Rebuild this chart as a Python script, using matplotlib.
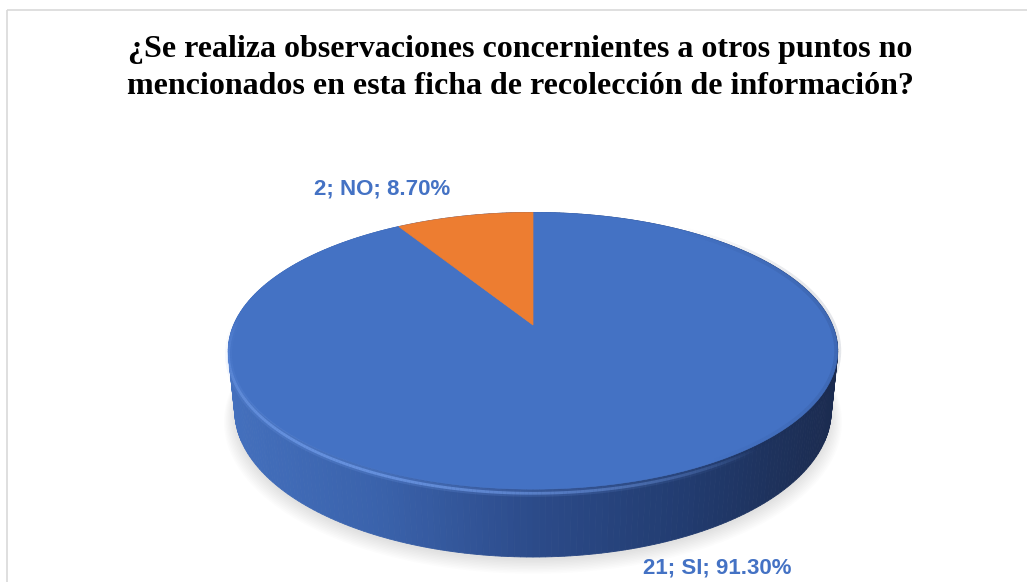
import numpy as np
import matplotlib.pyplot as plt
from matplotlib.patches import Polygon, Rectangle
from matplotlib.collections import LineCollection
from matplotlib.colors import LinearSegmentedColormap, to_rgba

# data
categories = ['SI', 'NO']
counts = [21, 2]
slice_colors = ['#4472C4', '#ED7D31']
title_lines = ['¿Se realiza observaciones concernientes a otros puntos no',
               'mencionados en esta ficha de recolección de información?']

# fake 3D pie camera (pixel space)
cx, cy = 533, 325
elev = np.radians(26.5)
dist = 4.8
focal = 1437
thick = 0.224


def proj(X, Y, Z):
    # Y = depth (far is positive), Z = up
    d = dist + Y * np.cos(elev) - Z * np.sin(elev)
    u = focal * X / d
    v = focal * (Y * np.sin(elev) + Z * np.cos(elev)) / d
    return cx + u, cy - v


def arc(a0, a1, z, n=200):
    phi = np.linspace(a0, a1, n)
    return proj(np.sin(phi), np.cos(phi), z * np.ones_like(phi))


def fading_line(a0, a1, z, color, width, alpha_max, dy=0):
    # rim line whose alpha follows a sine bump along the arc
    xs, ys = arc(a0, a1, z, 200)
    ys = ys + dy
    pts = np.column_stack([xs, ys]).reshape(-1, 1, 2)
    segs = np.concatenate([pts[:-1], pts[1:]], axis=1)
    t = np.linspace(0, 1, len(segs))
    alphas = alpha_max * np.sin(np.pi * t) ** 0.8
    cols = [to_rgba(color, a) for a in alphas]
    ax.add_collection(LineCollection(segs, colors=cols, linewidths=width, zorder=4))


fig = plt.figure(figsize=(10.27, 5.82), dpi=100)
ax = fig.add_axes([0, 0, 1, 1])
ax.set_xlim(0, 1027)
ax.set_ylim(582, 0)
ax.axis('off')

# chart border
ax.add_patch(Rectangle((6.5, 9.5), 1030, 600, fill=False, ec='#d9d9d9', lw=1.2))

# soft shadow under the pie
for k in range(10):
    sc = 1.0 + 0.004 * k
    bx, by = arc(0, 2 * np.pi, -thick, 300)
    bx = cx + (bx - cx) * sc
    by = (by - cy) * sc + cy + 3 + 0.6 * k
    ax.add_patch(Polygon(np.column_stack([bx, by]), closed=True,
                         fc='#000000', ec='none', alpha=0.012, zorder=1))

fracs = np.array(counts) / sum(counts)
edges = np.concatenate([[0], np.cumsum(fracs)]) * 2 * np.pi

# side wall, shaded by screen x
side_cmap = LinearSegmentedColormap.from_list(
    'side', ['#4470bd', '#3a62ab', '#2c4b8a', '#223c70', '#1b2b4f'])
n = 360
phis = np.linspace(0, 2 * np.pi, n + 1)
for i in np.argsort(np.cos(0.5 * (phis[:-1] + phis[1:])))[::-1]:
    p0, p1 = phis[i], phis[i + 1]
    tx, ty = arc(p0, p1, 0, 2)
    bx, by = arc(p0, p1, -thick, 2)
    xs = np.concatenate([tx, bx[::-1]])
    ys = np.concatenate([ty, by[::-1]])
    t = np.clip((xs.mean() - 230) / (836 - 230), 0, 1)
    col = side_cmap(t)
    ax.add_patch(Polygon(np.column_stack([xs, ys]), closed=True,
                         fc=col, ec=col, lw=0.6, zorder=2))

# top faces
for k in range(len(categories)):
    ax_, ay_ = arc(edges[k], edges[k + 1], 0)
    xs = np.concatenate([[cx], ax_])
    ys = np.concatenate([[cy], ay_])
    ax.add_patch(Polygon(np.column_stack([xs, ys]), closed=True,
                         fc=slice_colors[k], ec=slice_colors[k], lw=0.5, zorder=3))

# bevel: light rim on the front-left, darker rim on the right
fading_line(np.radians(140), np.radians(275), -0.01, '#7aa6f5', 5, 0.18, dy=1)
fading_line(np.radians(140), np.radians(275), -0.01, '#7aa6f5', 2, 0.6, dy=1)
fading_line(np.radians(35), np.radians(150), 0, '#1b2b4f', 5, 0.12, dy=0)

# title
ax.text(520, 50, title_lines[0], ha='center', va='center', fontsize=23,
        fontweight='bold', family='Liberation Serif', color='#000000')
ax.text(520, 87, title_lines[1], ha='center', va='center', fontsize=23,
        fontweight='bold', family='Liberation Serif', color='#000000')

# data labels
label_pos = {'NO': (382, 189), 'SI': (717, 568)}
total = sum(counts)
for cat, val in zip(categories, counts):
    lx, ly = label_pos[cat]
    ax.text(lx, ly, f'{val}; {cat}; {100 * val / total:.2f}%', ha='center', va='center',
            fontsize=16, fontweight='bold', family='Liberation Sans', color='#4472C4', zorder=6)

fig.savefig('out.png', dpi=100)
